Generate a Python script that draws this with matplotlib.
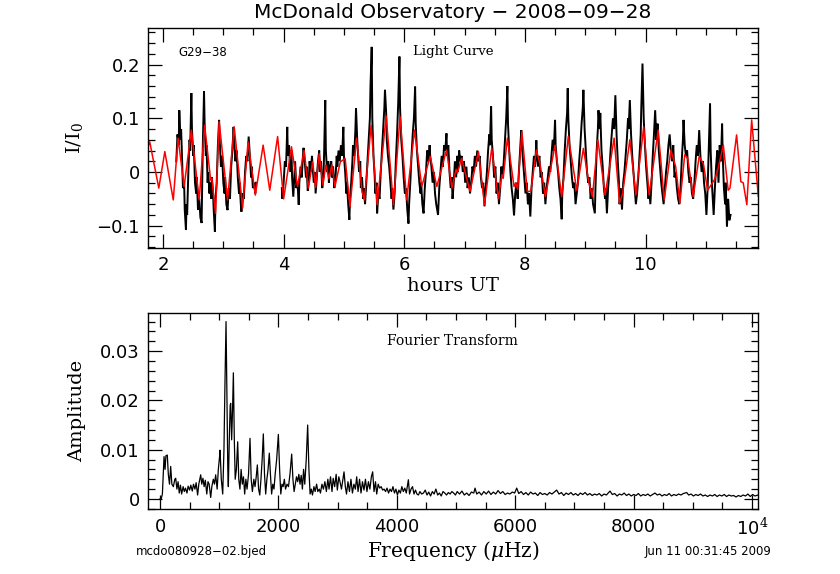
import numpy as np
import matplotlib
matplotlib.use("Agg")
import matplotlib.pyplot as plt
from matplotlib.ticker import MultipleLocator, FixedLocator, FixedFormatter

plt.rcParams['mathtext.fontset'] = 'dejavuserif'

# ---------------- data: light curve (hours UT, relative intensity) ----------------
red_fit = [
    (1.76, 0.050), (1.78, 0.056), (1.93, -0.030), (2.03, 0.038), (2.17, -0.052), (2.25, 0.063),
    (2.35, -0.027), (2.47, 0.078), (2.60, -0.052), (2.69, 0.087), (2.79, -0.015), (2.81, -0.012),
    (2.87, -0.077), (2.93, 0.094), (3.07, -0.052), (3.18, 0.084), (3.32, -0.067), (3.41, 0.056),
    (3.53, -0.043), (3.66, 0.050), (3.77, -0.034), (3.90, 0.066), (4.00, -0.050), (4.13, 0.047),
    (4.23, -0.027), (4.34, 0.040), (4.41, -0.030), (4.48, 0.019), (4.53, -0.029), (4.59, 0.034),
    (4.65, -0.024), (4.70, 0.013), (4.75, -0.012), (4.80, 0.013), (4.85, -0.027), (4.94, 0.019),
    (5.02, 0.025), (5.10, -0.065), (5.21, 0.063), (5.30, -0.037), (5.34, -0.052), (5.45, 0.087),
    (5.55, -0.061), (5.70, 0.104), (5.82, -0.061), (5.93, 0.103), (6.04, -0.052), (6.17, 0.078),
    (6.29, -0.027), (6.43, 0.029), (6.54, -0.027), (6.70, 0.041), (6.79, -0.030), (6.86, 0.005),
    (6.88, -0.002), (6.95, 0.025), (7.09, -0.036), (7.23, 0.038), (7.33, -0.061), (7.45, 0.044),
    (7.56, -0.049), (7.62, -0.005), (7.64, -0.012), (7.71, 0.063), (7.82, -0.027), (7.85, -0.020),
    (7.88, -0.032), (7.95, 0.075), (8.04, -0.037), (8.10, -0.035), (8.19, 0.041), (8.25, 0.015),
    (8.34, -0.046), (8.50, 0.050), (8.61, -0.046), (8.72, 0.066), (8.86, -0.034), (8.97, 0.044),
    (9.06, -0.020), (9.12, -0.046), (9.21, 0.060), (9.33, -0.043), (9.48, 0.063), (9.57, -0.058),
    (9.62, -0.040), (9.74, 0.060), (9.84, -0.043), (9.97, 0.084), (10.06, -0.043), (10.21, 0.078),
    (10.31, -0.052), (10.42, 0.041), (10.50, 0.010), (10.57, -0.058), (10.65, 0.032), (10.70, 0.025),
    (10.79, -0.046), (10.89, 0.029), (10.96, 0.015), (11.03, -0.034), (11.14, -0.015), (11.19, 0.000),
    (11.29, 0.050), (11.37, -0.034), (11.40, -0.030), (11.51, 0.069), (11.58, -0.018), (11.62, -0.020),
    (11.68, -0.061), (11.76, 0.097), (11.87, -0.045),
]

black_run1 = [
    (2.22, 0.02), (2.24, 0.07), (2.26, 0.05), (2.27, 0.115), (2.29, 0.06), (2.30, 0.08), (2.32, 0.01),
    (2.33, -0.03), (2.35, -0.02), (2.36, -0.07), (2.38, -0.108), (2.39, -0.06), (2.40, -0.08), (2.42, 0.00),
    (2.44, 0.06), (2.45, 0.04), (2.47, 0.147), (2.48, 0.08), (2.50, 0.03), (2.51, 0.05), (2.53, -0.02),
    (2.55, -0.04), (2.56, -0.01), (2.58, -0.07), (2.60, -0.05), (2.62, -0.085), (2.64, -0.095), (2.65, -0.02),
    (2.66, 0.05), (2.68, 0.150), (2.69, 0.09), (2.71, 0.03), (2.72, 0.05), (2.74, -0.02), (2.75, 0.00),
    (2.77, -0.04), (2.78, -0.02), (2.80, -0.05), (2.81, -0.01), (2.83, -0.04), (2.84, -0.07), (2.86, -0.111),
    (2.87, -0.05), (2.89, -0.02), (2.91, 0.05), (2.93, 0.097), (2.94, 0.06), (2.96, 0.01), (2.98, 0.03),
    (3.00, -0.02), (3.02, -0.04), (3.03, -0.01), (3.05, -0.06), (3.07, -0.071), (3.09, -0.03), (3.11, -0.05),
    (3.13, 0.01), (3.15, 0.04), (3.17, 0.084), (3.18, 0.06), (3.20, 0.02), (3.22, 0.04), (3.24, -0.01),
    (3.26, -0.04), (3.27, -0.02), (3.29, -0.06), (3.30, -0.074), (3.32, -0.04), (3.34, -0.05), (3.36, 0.00),
    (3.38, 0.03), (3.40, 0.02), (3.42, 0.066), (3.44, 0.03), (3.46, -0.01), (3.47, 0.01), (3.49, -0.03),
    (3.51, -0.02), (3.53, -0.04), (3.54, -0.02),
]

black_run2 = [
    (3.97, -0.03), (3.98, -0.05), (4.00, -0.02), (4.02, 0.02), (4.04, 0.01), (4.06, 0.084), (4.07, 0.03),
    (4.09, 0.05), (4.11, 0.00), (4.13, 0.04), (4.14, -0.01), (4.16, -0.046), (4.18, 0.00), (4.19, 0.02),
    (4.21, -0.03), (4.23, -0.02), (4.25, -0.061), (4.26, -0.02), (4.28, 0.01), (4.30, -0.01), (4.32, 0.03),
    (4.33, 0.045), (4.35, 0.02), (4.37, -0.01), (4.38, 0.01), (4.40, -0.035), (4.42, -0.01), (4.43, 0.02),
    (4.45, 0.00), (4.47, 0.03), (4.48, 0.01), (4.50, -0.02), (4.52, 0.00), (4.53, -0.04), (4.55, -0.01),
    (4.57, 0.02), (4.59, 0.04), (4.60, 0.00), (4.62, 0.02), (4.64, -0.03), (4.66, -0.01), (4.67, 0.03),
    (4.69, 0.134), (4.70, 0.04), (4.72, 0.00), (4.74, 0.02), (4.75, -0.02), (4.77, 0.01), (4.79, 0.02),
    (4.80, -0.01), (4.82, 0.01), (4.84, -0.03), (4.86, -0.01), (4.88, 0.03), (4.89, 0.01), (4.91, 0.04),
    (4.93, 0.02), (4.95, 0.05), (4.97, 0.03), (4.99, 0.084), (5.00, 0.03), (5.02, 0.00), (5.04, -0.04),
    (5.05, -0.02), (5.07, -0.06), (5.09, -0.089), (5.10, -0.05), (5.12, -0.02), (5.14, 0.02), (5.15, 0.05),
    (5.17, 0.03), (5.19, 0.08), (5.20, 0.119), (5.22, 0.06), (5.23, 0.04), (5.25, 0.00), (5.27, 0.02),
    (5.28, -0.03), (5.30, -0.01), (5.32, -0.05), (5.33, -0.03), (5.35, -0.06), (5.37, -0.02), (5.39, 0.02),
    (5.41, 0.06), (5.43, 0.10), (5.44, 0.16), (5.46, 0.233), (5.47, 0.10), (5.49, 0.03), (5.51, -0.01),
    (5.52, -0.04), (5.54, -0.02), (5.55, -0.077), (5.57, -0.04), (5.59, -0.05), (5.61, 0.00), (5.63, 0.04),
    (5.65, 0.08), (5.67, 0.12), (5.68, 0.153), (5.70, 0.11), (5.71, 0.06), (5.73, 0.03), (5.75, 0.01),
    (5.77, -0.02), (5.79, -0.05), (5.80, -0.03), (5.82, -0.07), (5.84, -0.04), (5.86, 0.02), (5.88, 0.07),
    (5.90, 0.13), (5.92, 0.215), (5.93, 0.12), (5.95, 0.06), (5.97, 0.03), (5.99, -0.01), (6.01, -0.04),
    (6.03, -0.03), (6.05, -0.07), (6.07, -0.096), (6.08, -0.06), (6.10, -0.02), (6.12, 0.03), (6.14, 0.07),
    (6.16, 0.10), (6.18, 0.159), (6.19, 0.09), (6.21, 0.04), (6.23, 0.01), (6.25, -0.02), (6.27, -0.04),
    (6.28, -0.02), (6.30, -0.06), (6.32, -0.077), (6.34, -0.03), (6.36, 0.00), (6.38, 0.04), (6.40, 0.02),
    (6.42, 0.05), (6.43, 0.03), (6.45, 0.01), (6.47, -0.02), (6.49, 0.00), (6.51, -0.04), (6.53, -0.06),
    (6.56, -0.08), (6.58, -0.03), (6.60, 0.00), (6.62, 0.03), (6.64, 0.01), (6.66, 0.05), (6.68, 0.04),
    (6.70, 0.072), (6.71, 0.03), (6.73, 0.05), (6.75, 0.00), (6.77, -0.03), (6.79, -0.01), (6.80, -0.05),
    (6.82, -0.02), (6.84, 0.02), (6.86, -0.01), (6.88, 0.03), (6.89, 0.00), (6.91, 0.04), (6.93, 0.02),
    (6.95, 0.03), (6.97, 0.00), (6.99, 0.02), (7.01, -0.02), (7.03, 0.01), (7.05, -0.03), (7.07, -0.01),
    (7.09, -0.04), (7.11, -0.02), (7.13, 0.01), (7.15, 0.00), (7.17, 0.03), (7.19, 0.01), (7.21, 0.04),
    (7.23, 0.02), (7.25, 0.03), (7.27, -0.01), (7.29, -0.03), (7.31, -0.02), (7.33, -0.064), (7.35, -0.03),
    (7.37, 0.00), (7.39, 0.04), (7.41, 0.07), (7.42, 0.05), (7.44, 0.122), (7.45, 0.06), (7.47, 0.03),
    (7.49, -0.01), (7.51, 0.01), (7.53, -0.04), (7.55, -0.02), (7.57, -0.06), (7.59, -0.03), (7.61, 0.01),
    (7.63, -0.01), (7.65, 0.02), (7.67, 0.06), (7.69, 0.10), (7.71, 0.160), (7.72, 0.09), (7.74, 0.04),
    (7.76, 0.00), (7.78, -0.03), (7.80, -0.05), (7.82, -0.081), (7.84, -0.04), (7.86, -0.02), (7.88, -0.05),
    (7.90, 0.00), (7.92, 0.04), (7.94, 0.078), (7.95, 0.05), (7.97, 0.02), (7.99, -0.01), (8.01, -0.04),
    (8.03, -0.02), (8.05, -0.06), (8.07, -0.04), (8.09, -0.083), (8.11, -0.03), (8.13, 0.00), (8.15, 0.03),
    (8.17, 0.01), (8.19, 0.059), (8.20, 0.03), (8.22, 0.01), (8.24, 0.03), (8.26, -0.01), (8.28, 0.00),
    (8.30, -0.04), (8.32, -0.02), (8.34, -0.06), (8.36, -0.03), (8.38, -0.01), (8.40, 0.01), (8.42, 0.00),
    (8.44, 0.03), (8.46, 0.06), (8.48, 0.04), (8.50, 0.097), (8.51, 0.05), (8.53, 0.02), (8.55, 0.00),
    (8.57, -0.03), (8.59, -0.05), (8.61, -0.088), (8.62, -0.04), (8.64, -0.01), (8.66, 0.04), (8.68, 0.08),
    (8.70, 0.11), (8.71, 0.156), (8.72, 0.10), (8.74, 0.05), (8.76, 0.02), (8.78, -0.01), (8.80, -0.03),
    (8.82, -0.02), (8.84, -0.06), (8.86, -0.04), (8.88, -0.02), (8.90, 0.02), (8.92, 0.05), (8.94, 0.09),
    (8.96, 0.12), (8.97, 0.153), (8.99, 0.08), (9.01, 0.04), (9.03, 0.00), (9.05, -0.02), (9.07, -0.01),
    (9.09, -0.05), (9.11, -0.03), (9.13, -0.06), (9.16, -0.077), (9.17, -0.03), (9.19, 0.04), (9.21, 0.08),
    (9.22, 0.115), (9.24, 0.08), (9.25, 0.11), (9.27, 0.04), (9.29, 0.01), (9.31, -0.03), (9.33, -0.05),
    (9.34, -0.03), (9.36, -0.077), (9.38, -0.03), (9.40, 0.00), (9.42, 0.04), (9.44, 0.07), (9.46, 0.10),
    (9.48, 0.08), (9.50, 0.143), (9.52, 0.07), (9.54, 0.02), (9.56, -0.02), (9.57, -0.06), (9.59, -0.03),
    (9.61, -0.07), (9.63, -0.02), (9.65, 0.00), (9.67, 0.03), (9.69, 0.06), (9.71, 0.10), (9.72, 0.08),
    (9.74, 0.134), (9.76, 0.07), (9.78, 0.03), (9.80, 0.00), (9.82, -0.03), (9.84, -0.06), (9.86, -0.04),
    (9.88, -0.01), (9.90, 0.03), (9.92, 0.07), (9.93, 0.12), (9.95, 0.202), (9.97, 0.10), (9.99, 0.05),
    (10.01, 0.01), (10.03, -0.02), (10.05, -0.05), (10.06, -0.03), (10.08, -0.06), (10.10, -0.02),
    (10.12, 0.03), (10.14, 0.07), (10.16, 0.115), (10.18, 0.06), (10.20, 0.09), (10.22, 0.04),
    (10.24, 0.01), (10.26, -0.02), (10.28, -0.04), (10.30, -0.06), (10.32, -0.03), (10.34, 0.00),
    (10.36, 0.02), (10.38, 0.05), (10.40, 0.07), (10.42, 0.04), (10.44, 0.02), (10.46, 0.05),
    (10.48, -0.01), (10.50, 0.00), (10.52, -0.03), (10.54, -0.05), (10.56, -0.06), (10.58, -0.03),
    (10.60, 0.02), (10.62, 0.06), (10.63, 0.097), (10.65, 0.05), (10.67, 0.03), (10.69, 0.04),
    (10.71, 0.00), (10.73, -0.02), (10.75, -0.01), (10.77, -0.04), (10.79, -0.05), (10.81, -0.02),
    (10.83, 0.02), (10.85, 0.05), (10.87, 0.03), (10.89, 0.078), (10.91, 0.03), (10.93, 0.00),
    (10.95, 0.02), (10.97, -0.02), (10.99, -0.04), (11.01, -0.08), (11.03, -0.03), (11.05, 0.05),
    (11.07, 0.128), (11.08, 0.04), (11.10, -0.02), (11.12, -0.06), (11.13, -0.08), (11.15, -0.03),
    (11.17, 0.01), (11.19, 0.04), (11.21, -0.02), (11.23, 0.05), (11.25, 0.02), (11.27, 0.09),
    (11.28, 0.03), (11.30, -0.03), (11.32, -0.06), (11.33, -0.02), (11.35, -0.102), (11.37, -0.05),
    (11.39, -0.09), (11.41, -0.08),
]

# ---------------- data: Fourier transform (µHz, amplitude) ----------------
ft_points = [
    (0, 0.0), (20, 0.0), (40, 0.001), (55, 0.005), (68, 0.0086), (85, 0.006), (100, 0.0088), (123, 0.0089),
    (140, 0.005), (160, 0.003), (180, 0.0066), (200, 0.003), (225, 0.0025), (250, 0.004), (265, 0.0042),
    (285, 0.002), (305, 0.0035), (325, 0.0012), (345, 0.0028), (365, 0.0010), (390, 0.0025), (410, 0.0015),
    (430, 0.0022), (455, 0.0012), (475, 0.0026), (500, 0.0018), (520, 0.0028), (545, 0.0016), (565, 0.0030),
    (590, 0.0020), (610, 0.0033), (635, 0.0008), (655, 0.0030), (687, 0.0049), (705, 0.0030), (725, 0.0042),
    (745, 0.0025), (765, 0.0038), (790, 0.0010), (810, 0.0035), (830, 0.0030), (856, 0.0003), (875, 0.0025),
    (900, 0.0040), (920, 0.0030), (940, 0.0049), (965, 0.0020), (985, 0.0060), (1005, 0.0085), (1014, 0.0099),
    (1035, 0.0040), (1059, 0.0010), (1080, 0.010), (1095, 0.022), (1115, 0.036), (1130, 0.020), (1145, 0.006),
    (1154, 0.0025), (1170, 0.012), (1185, 0.019), (1194, 0.0194), (1210, 0.012), (1225, 0.018), (1239, 0.0256),
    (1255, 0.012), (1270, 0.004), (1290, 0.006), (1312, 0.0116), (1330, 0.004), (1350, 0.002), (1370, 0.0060),
    (1390, 0.003), (1410, 0.0045), (1430, 0.0010), (1450, 0.0040), (1470, 0.0020), (1495, 0.005), (1520, 0.0123),
    (1540, 0.004), (1560, 0.0015), (1585, 0.0040), (1605, 0.0025), (1625, 0.0045), (1644, 0.0069), (1665, 0.0020),
    (1685, 0.0008), (1705, 0.0040), (1725, 0.0080), (1745, 0.0132), (1765, 0.0050), (1785, 0.0010), (1805, 0.0040),
    (1825, 0.0060), (1846, 0.0093), (1865, 0.0050), (1885, 0.0010), (1905, 0.0030), (1925, 0.0020), (1945, 0.0050),
    (1970, 0.0080), (1999, 0.0131), (2020, 0.0060), (2040, 0.0010), (2060, 0.0030), (2080, 0.0025), (2100, 0.0040),
    (2120, 0.0020), (2145, 0.0030), (2170, 0.0025), (2195, 0.0050), (2224, 0.0091), (2245, 0.0040), (2265, 0.0015),
    (2285, 0.0030), (2305, 0.0045), (2325, 0.0035), (2345, 0.0050), (2365, 0.0030), (2385, 0.0048), (2405, 0.0020),
    (2425, 0.0060), (2445, 0.0030), (2470, 0.0080), (2494, 0.0150), (2515, 0.0060), (2535, 0.0010), (2555, 0.0020),
    (2575, 0.0008), (2600, 0.0025), (2620, 0.0015), (2645, 0.0030), (2665, 0.0015), (2690, 0.0020), (2710, 0.0012),
    (2735, 0.0030), (2760, 0.0020), (2785, 0.0035), (2810, 0.0015), (2835, 0.0040), (2855, 0.0020), (2880, 0.0045),
    (2905, 0.0015), (2925, 0.0042), (2950, 0.0025), (2975, 0.0050), (2995, 0.0018), (3020, 0.0045), (3040, 0.0035),
    (3065, 0.0020), (3090, 0.0040), (3108, 0.0055), (3130, 0.0025), (3150, 0.0010), (3175, 0.0035), (3200, 0.0015),
    (3225, 0.0040), (3250, 0.0012), (3275, 0.0030), (3300, 0.0020), (3322, 0.0045), (3345, 0.0015), (3370, 0.0040),
    (3395, 0.0012), (3420, 0.0035), (3445, 0.0018), (3470, 0.0040), (3495, 0.0015), (3520, 0.0035), (3545, 0.0020),
    (3570, 0.0045), (3592, 0.0055), (3615, 0.0015), (3640, 0.0035), (3660, 0.0010), (3685, 0.0030), (3710, 0.0022),
    (3735, 0.0025), (3760, 0.0018), (3785, 0.0020), (3810, 0.0015), (3835, 0.0022), (3860, 0.0012), (3885, 0.0020),
    (3910, 0.0015), (3935, 0.0025), (3960, 0.0012), (3985, 0.0020), (4010, 0.0008), (4035, 0.0018), (4060, 0.0012),
    (4085, 0.0025), (4110, 0.0015), (4135, 0.0022), (4160, 0.0012), (4195, 0.0039), (4215, 0.0010), (4240, 0.0020),
    (4265, 0.0025), (4290, 0.0010), (4315, 0.0018), (4340, 0.0010), (4365, 0.0008), (4390, 0.0015), (4420, 0.0010),
    (4450, 0.0012), (4480, 0.0018), (4510, 0.0008), (4540, 0.0014), (4570, 0.0006), (4600, 0.0015), (4630, 0.0010),
    (4660, 0.0020), (4690, 0.0008), (4720, 0.0012), (4750, 0.0006), (4780, 0.0015), (4810, 0.0012), (4840, 0.0008),
    (4870, 0.0013), (4900, 0.0010), (4930, 0.0015), (4960, 0.0012), (4990, 0.0008), (5020, 0.0015), (5060, 0.0010),
    (5100, 0.0016), (5140, 0.0008), (5180, 0.0012), (5220, 0.0007), (5260, 0.0014), (5300, 0.0012), (5321, 0.0022),
    (5350, 0.0010), (5390, 0.0014), (5430, 0.0008), (5470, 0.0015), (5510, 0.0010), (5550, 0.0016), (5590, 0.0009),
    (5630, 0.0014), (5670, 0.0010), (5710, 0.0017), (5750, 0.0011), (5790, 0.0015), (5830, 0.0009), (5870, 0.0012),
    (5910, 0.0010), (5950, 0.0014), (5990, 0.0012), (6025, 0.0022), (6060, 0.0011), (6100, 0.0015), (6140, 0.0009),
    (6180, 0.0013), (6220, 0.0008), (6260, 0.0014), (6300, 0.0010), (6340, 0.0012), (6380, 0.0007), (6420, 0.0013),
    (6460, 0.0009), (6500, 0.0011), (6540, 0.0008), (6580, 0.0013), (6620, 0.0010), (6660, 0.0014), (6700, 0.0018),
    (6740, 0.0010), (6780, 0.0013), (6820, 0.0007), (6860, 0.0012), (6900, 0.0009), (6940, 0.0013), (6980, 0.0008),
    (7020, 0.0011), (7060, 0.0007), (7100, 0.0012), (7140, 0.0009), (7180, 0.0013), (7220, 0.0008), (7260, 0.0011),
    (7300, 0.0007), (7340, 0.0010), (7380, 0.0008), (7420, 0.0011), (7460, 0.0006), (7500, 0.0010), (7540, 0.0008),
    (7601, 0.0016), (7640, 0.0009), (7680, 0.0011), (7720, 0.0006), (7760, 0.0010), (7800, 0.0008), (7840, 0.0012),
    (7880, 0.0007), (7920, 0.0010), (7960, 0.0006), (8000, 0.0009), (8040, 0.0007), (8080, 0.0011), (8120, 0.0006),
    (8160, 0.0009), (8200, 0.0007), (8240, 0.0010), (8280, 0.0006), (8320, 0.0009), (8360, 0.0012), (8400, 0.0008),
    (8440, 0.0010), (8480, 0.0006), (8520, 0.0009), (8560, 0.0007), (8600, 0.0011), (8640, 0.0006), (8680, 0.0009),
    (8720, 0.0007), (8760, 0.0010), (8800, 0.0008), (8840, 0.0011), (8896, 0.0013), (8930, 0.0008), (8970, 0.0010),
    (9010, 0.0006), (9050, 0.0009), (9090, 0.0007), (9130, 0.0010), (9170, 0.0006), (9210, 0.0008), (9250, 0.0005),
    (9290, 0.0008), (9330, 0.0006), (9370, 0.0009), (9410, 0.0005), (9450, 0.0008), (9490, 0.0006), (9530, 0.0009),
    (9570, 0.0005), (9610, 0.0008), (9650, 0.0006), (9690, 0.0007), (9730, 0.0004), (9770, 0.0007), (9810, 0.0005),
    (9850, 0.0008), (9890, 0.0006), (9930, 0.0010), (9970, 0.0005), (10010, 0.0009), (10050, 0.0006), (10100, 0.0008),
]

hour_ticks = [2, 4, 6, 8, 10]
lc_yticks = [-0.1, 0, 0.1, 0.2]
lc_ytick_labels = ["\u22120.1", "0", "0.1", "0.2"]
freq_ticks = [0, 2000, 4000, 6000, 8000, 10000]
freq_tick_labels = ["0", "2000", "4000", "6000", "8000", "10$^{4}$"]
amp_ticks = [0, 0.01, 0.02, 0.03]
amp_tick_labels = ["0", "0.01", "0.02", "0.03"]

# ---------------- figure ----------------
fig = plt.figure(figsize=(8.4, 5.74), dpi=100)
fig.patch.set_facecolor("white")

ax1 = fig.add_axes([148.3 / 840, 1 - 247.7 / 574, (758.3 - 148.3) / 840, (247.7 - 28.3) / 574])
ax2 = fig.add_axes([148.3 / 840, 1 - 509.3 / 574, (758.3 - 148.3) / 840, (509.3 - 312.7) / 574])

serif = ["DejaVu Serif"]

def style(ax):
    ax.tick_params(which="both", direction="in", top=True, right=True, width=0.9, color="black")
    ax.tick_params(which="major", length=10)
    ax.tick_params(which="minor", length=5)
    for s in ax.spines.values():
        s.set_linewidth(1.0)
    for lab in ax.get_xticklabels() + ax.get_yticklabels():
        lab.set_fontfamily("DejaVu Sans")
        lab.set_fontsize(13)

# top panel
rt, rv = zip(*red_fit)
for run in (black_run1, black_run2):
    bt, bv = zip(*run)
    ax1.plot(bt, bv, color="black", lw=1.4, solid_joinstyle="miter")
ax1.plot(rt, rv, color="#ff0000", lw=1.1)
ax1.set_xlim(1.756, 11.87)
ax1.set_ylim(-0.141, 0.2676)
ax1.xaxis.set_major_locator(FixedLocator(hour_ticks))
ax1.xaxis.set_minor_locator(MultipleLocator(0.5))
ax1.yaxis.set_major_locator(FixedLocator(lc_yticks))
ax1.yaxis.set_major_formatter(FixedFormatter(lc_ytick_labels))
ax1.yaxis.set_minor_locator(MultipleLocator(0.02))
ax1.tick_params(axis="x", pad=6)
ax1.tick_params(axis="y", pad=6)
style(ax1)
ax1.set_xlabel("hours UT", fontfamily=serif, fontsize=14, labelpad=2)
ax1.set_ylabel("I/I$_0$", fontfamily=serif, fontsize=14, labelpad=8)
ax1.text((178 - 148.3) / 610, (247.7 - 52) / 219.4, "G29\u221238", transform=ax1.transAxes,
         fontsize=8.5, family="DejaVu Sans", va="center")
ax1.text((413 - 148.3) / 610, (247.7 - 51) / 219.4, "Light Curve", transform=ax1.transAxes,
         fontsize=9.6, family=serif, va="center")

# bottom panel
ft_f, ft_a = zip(*ft_points)
ax2.plot(ft_f, ft_a, color="black", lw=0.9)
ax2.set_xlim(-198, 10106)
ax2.set_ylim(-0.0021, 0.0378)
ax2.xaxis.set_major_locator(FixedLocator(freq_ticks))
ax2.xaxis.set_major_formatter(FixedFormatter(freq_tick_labels))
ax2.xaxis.set_minor_locator(MultipleLocator(500))
ax2.yaxis.set_major_locator(FixedLocator(amp_ticks))
ax2.yaxis.set_major_formatter(FixedFormatter(amp_tick_labels))
ax2.yaxis.set_minor_locator(MultipleLocator(0.002))
ax2.tick_params(axis="x", pad=6)
ax2.tick_params(axis="y", pad=6)
style(ax2)
ax2.set_xlabel("Frequency ($\\mu$Hz)", fontfamily=serif, fontsize=14.5, labelpad=0)
ax2.set_ylabel("Amplitude", fontfamily=serif, fontsize=14, labelpad=10)
ax2.text((387 - 148.3) / 610, (509.3 - 341) / 196.6, "Fourier Transform", transform=ax2.transAxes,
         fontsize=10, family=serif, va="center")

fig.text(453 / 840, 1 - 12 / 574, "McDonald Observatory \u2212 2008\u221209\u221228", ha="center", va="center",
         fontsize=14.5, family="DejaVu Sans")
fig.text(136 / 840, 1 - 551 / 574, "mcdo080928\u221202.bjed", ha="left", va="center", fontsize=8.5,
         family="DejaVu Sans")
fig.text(772 / 840, 1 - 551 / 574, "Jun 11 00:31:45 2009", ha="right", va="center", fontsize=8.5,
         family="DejaVu Sans")

fig.savefig("out.png", dpi=100, facecolor="white")
